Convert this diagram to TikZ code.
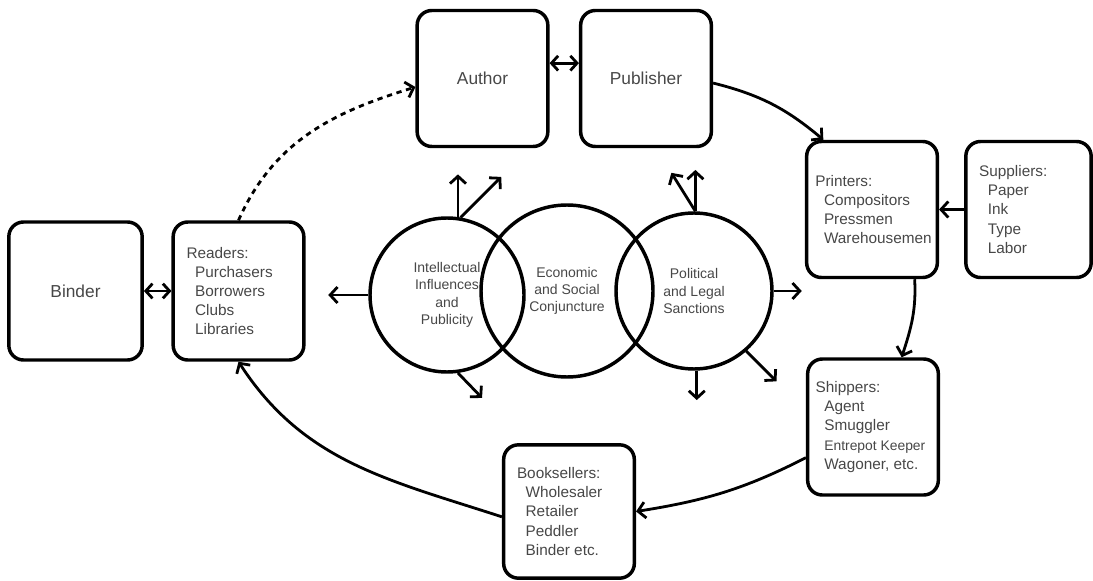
\documentclass[tikz,border=0pt]{standalone}
\usepackage{fontspec}
\setmainfont{Liberation Sans}
\usepackage{tikz}
\usetikzlibrary{arrows.meta, positioning}
\hyphenpenalty=10000
\exhyphenpenalty=10000
\newcommand{\sublist}{\hspace*{6.5pt}}
\newcommand{\smallline}{\fontsize{10.4}{14.3}\selectfont}

\tikzset{
  stage/.style={draw, line width=2.6pt, rounded corners=11pt, minimum height=102pt, text width=86pt, inner xsep=6pt, align=flush left, text=black!72, font=\fontsize{11.5}{14.3}\selectfont},
  title/.style={stage, align=center, font=\fontsize{13}{15}\selectfont},
  sphere/.style={draw, circle, line width=2.6pt, inner sep=0pt, align=center, text=black!72, font=\fontsize{10.5}{13}\selectfont},
  flow/.style={line width=2.1pt, -{Straight Barb[length=5.5pt,width=12pt]}},
  twoway/.style={line width=2.1pt, {Straight Barb[length=5pt,width=11pt]}-{Straight Barb[length=5pt,width=11pt]}},
}

\begin{document}
\begin{tikzpicture}[x=0.75pt, y=-0.75pt]
  \useasboundingbox (0,0) rectangle (1093,581);

  % Stages of the circuit
  \node[title] (author) at (482.5,78.5) {Author};
  \node[title] (publisher) at (646,78.5) {Publisher};
  \node[stage, text width=91pt, inner xsep=3.5pt] (printers) at (872,209.5) {\hspace*{3pt}Printers:\\ \hspace*{3pt}\sublist Compositors\\ \hspace*{3pt}\sublist Pressmen\\ \hspace*{3pt}\sublist Warehousemen};
  \node[stage, text width=82pt] (suppliers) at (1028.5,209.5) {\hspace*{4pt}Suppliers:\\ \hspace*{4pt}\sublist Paper\\ \hspace*{4pt}\sublist Ink\\ \hspace*{4pt}\sublist Type\\ \hspace*{4pt}\sublist Labor};
  \node[stage] (shippers) at (873,427) {Shippers:\\ \sublist Agent\\ \sublist Smuggler\\ \sublist{\smallline Entrepot Keeper}\\ \sublist Wagoner, etc.};
  \node[stage, minimum height=100pt] (booksellers) at (569,511.5) {\hspace*{4pt}Booksellers:\\ \hspace*{4pt}\sublist Wholesaler\\ \hspace*{4pt}\sublist Retailer\\ \hspace*{4pt}\sublist Peddler\\ \hspace*{4pt}\sublist Binder etc.};
  \node[stage, minimum height=103.5pt] (readers) at (238.5,291) {\hspace*{4pt}Readers:\\ \hspace*{4pt}\sublist Purchasers\\ \hspace*{4pt}\sublist Borrowers\\ \hspace*{4pt}\sublist Clubs\\ \hspace*{4pt}\sublist Libraries};
  \node[title, minimum height=103.5pt, text width=88pt] (binder) at (75.5,291) {Binder};

  % The three spheres of influence
  \node[sphere, minimum size=115.5pt] (intel) at (447,295) {Intellectual\\ Influences\\ and\\ Publicity};
  \node[sphere, minimum size=129pt] (econ) at (567,291) {Economic\\ and Social\\ Conjuncture};
  \node[sphere, minimum size=117pt] (legal) at (694,291) {Political\\ and Legal\\ Sanctions};

  % Flow round the circuit
  \draw[twoway] ([yshift=11.5pt]author.east) -- ([yshift=11.5pt]publisher.west);
  \draw[flow] ([yshift=-3.4pt]publisher.east) to[out=-14, in=140] ([xshift=-36.5pt]printers.north);
  \draw[flow] (suppliers.west) -- (printers.east);
  \draw[flow] ([xshift=32pt]printers.south) to[out=-87, in=72] ([xshift=21.5pt]shippers.north);
  \draw[flow] ([yshift=-23pt]shippers.west) to[out=207, in=9] (booksellers.east);
  \draw[flow] ([yshift=-4pt]booksellers.west) to[out=162, in=-57] (readers.south);
  \draw[twoway] (binder.east) -- (readers.west);
  \draw[flow, dash pattern=on 4pt off 3.5pt] (readers.north) to[out=66, in=197] ([yshift=-6.4pt]author.west);

  % Influences radiating out
  \foreach \ang/\dir/\len in {180/180/30pt, 82/90/32pt, 80/45/43pt, -82/-46/26pt}
    \draw[flow] (intel.\ang) -- ++(\dir:\len);
  \foreach \ang/\dir/\len in {89/90/31pt, 89/122/34pt, 0/0/21pt, -88/-90/22pt, -49/-45/32pt}
    \draw[flow] (legal.\ang) -- ++(\dir:\len);
\end{tikzpicture}
\end{document}
